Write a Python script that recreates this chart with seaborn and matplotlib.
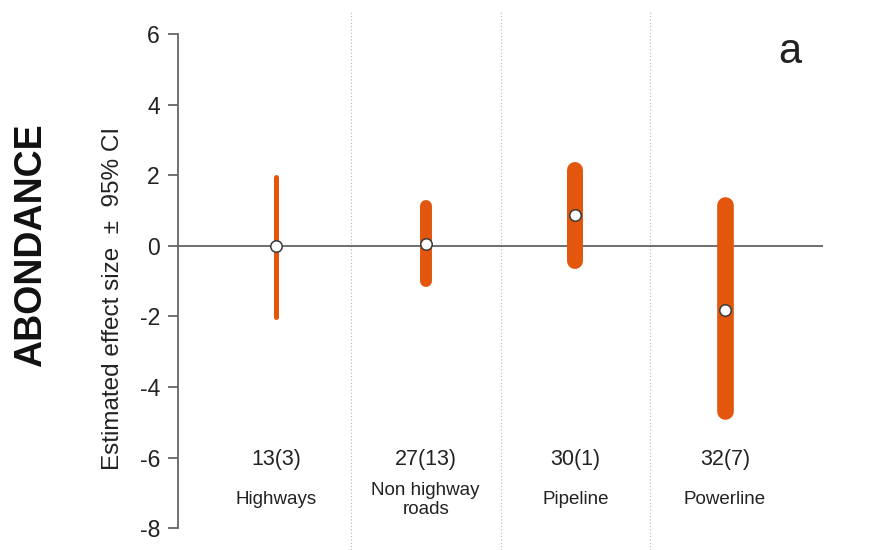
import numpy as np
import pandas as pd
import matplotlib
matplotlib.use("Agg")
import matplotlib.pyplot as plt
import seaborn as sns

# ================================
#  Data
# ================================
categories = ["Highways", "Non highway\nroads", "Pipeline", "Powerline"]
n_labels = ["13(3)", "27(13)", "30(1)", "32(7)"]
effect = [0.0, 0.05, 0.88, -1.81]
ci_low = [-2.02, -0.99, -0.42, -4.69]
ci_high = [1.95, 1.13, 2.15, 1.15]
bar_width_pt = [3.6, 8.6, 11.5, 12.0]

yticks = [6, 4, 2, 0, -2, -4, -6, -8]

df = pd.DataFrame({
    "pos": np.arange(len(categories)),
    "category": categories,
    "effect": effect,
    "lo": ci_low,
    "hi": ci_high,
})

# ================================
#  Style
# ================================
sns.set_style("white")
plt.rcParams["font.family"] = ["Liberation Sans", "DejaVu Sans"]

orange = "#E2560E"
fig = plt.figure(figsize=(8.8, 5.5), dpi=100)
ax = fig.add_axes([178 / 880, 0.0, (823 - 178) / 880, 1 - 12 / 550])

# CI bars (rounded ends)
lc = ax.vlines(df["pos"], df["lo"], df["hi"], colors=orange,
               linewidths=bar_width_pt, zorder=2)
lc.set_capstyle("round")

# zero line
ax.axhline(0, color="#555555", lw=1.2, zorder=1)

# dividers between groups
for d in df["pos"][:-1] + 0.5:
    ax.axvline(d, color="#b5b5b5", lw=0.8, ls=(0, (1, 2)), zorder=0)

# means
sns.scatterplot(data=df, x="pos", y="effect", ax=ax, s=68, color="white",
                edgecolor="#3a3a3a", linewidth=1.1, zorder=3, legend=False)

# sample size and category labels
for i, row in df.iterrows():
    ax.text(row["pos"], -6.05, n_labels[i], ha="center", va="center",
            fontsize=15.5, color="#222222")
    ax.text(row["pos"], -7.2, row["category"], ha="center", va="center",
            fontsize=13.5, color="#222222", linespacing=1.1)

ax.set_xlim(-0.655, 3.655)
ax.set_ylim(-8.62, 6.63)
ax.set_yticks(yticks)
ax.set_yticklabels([str(t) for t in yticks], fontsize=16.5, color="#222222")
ax.set_xticks([])
ax.set_xlabel("")
ax.set_ylabel("")

for s in ["top", "right", "bottom"]:
    ax.spines[s].set_visible(False)
ax.spines["left"].set_bounds(-8, 6)
ax.spines["left"].set_color("#666666")
ax.spines["left"].set_linewidth(1.3)
ax.tick_params(axis="y", left=True, length=7, width=1.3, color="#666666", pad=6)

fig.text(113 / 880, 1 - 298 / 550, "Estimated effect size  \u00b1  95% CI",
         rotation=90, ha="center", va="center", fontsize=17.5, color="#222222")
fig.text(31 / 880, 1 - 245 / 550, "ABONDANCE", rotation=90, ha="center",
         va="center", fontsize=27, fontweight="bold", color="#111111")
fig.text(790 / 880, 1 - 52 / 550, "a", ha="center", va="center",
         fontsize=30, color="#222222")

fig.savefig("out.png", dpi=100)
